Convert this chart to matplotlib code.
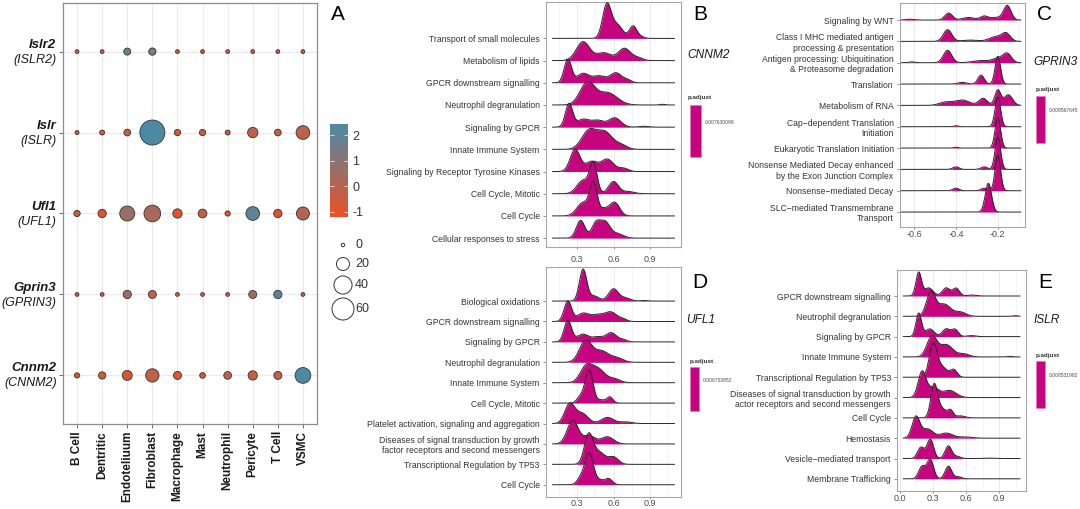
import numpy as np
import matplotlib
matplotlib.use('Agg')
from matplotlib import pyplot as plt
from matplotlib.colors import LinearSegmentedColormap, Normalize
from matplotlib.patches import Rectangle
from matplotlib.cm import ScalarMappable

plt.rcParams['font.family'] = ['Liberation Sans', 'DejaVu Sans']

# ---------------- panel A: dot plot ----------------
cell_types = ['B Cell', 'Dentritic', 'Endoteliuum', 'Fibroblast', 'Macrophage',
              'Mast', 'Neutrophil', 'Pericyte', 'T Cell', 'VSMC']
gene_names = ['Islr2', 'Islr', 'Ufl1', 'Gprin3', 'Cnnm2']
gene_human = ['(ISLR2)', '(ISLR)', '(UFL1)', '(GPRIN3)', '(CNNM2)']

# percent expressed
islr2_pct = [0.3, 0.3, 4.7, 5.2, 0.3, 0.3, 0.3, 0.3, 0.3, 0.3]
islr_pct = [0.5, 1.6, 4.2, 77.6, 3.5, 3.5, 1.6, 11.9, 4.2, 22.2]
ufl1_pct = [3.5, 7.2, 27.0, 33.8, 9.4, 8.1, 2.0, 22.2, 7.2, 19.9]
gprin3_pct = [0.3, 0.3, 7.2, 6.6, 0.3, 0.3, 0.3, 6.6, 7.2, 0.3]
cnnm2_pct = [2.0, 5.2, 11.1, 20.9, 6.6, 2.6, 6.0, 9.4, 6.6, 29.7]

# average expression (scaled)
islr2_expr = [-0.9, -0.9, 2.0, 1.3, -0.9, -0.9, -0.9, -0.9, -0.9, -0.9]
islr_expr = [-0.9, -0.7, -0.5, 2.4, -0.6, -0.6, -0.7, -0.2, -0.4, -0.1]
ufl1_expr = [-0.8, -0.9, 0.7, 0.3, -1.0, -0.3, -1.0, 2.0, -0.8, 0.1]
gprin3_expr = [-0.9, -0.9, 0.5, -0.3, -0.9, -0.9, -0.9, 0.5, 2.1, -0.9]
cnnm2_expr = [-1.0, -0.8, -0.8, -0.2, -0.9, -0.8, -0.2, -0.3, -0.2, 2.4]

size_breaks = [0, 20, 40, 60]
expr_ticks = [-1, 0, 1, 2]

# ---------------- ridge panels ----------------
b_terms = ['Transport of small molecules', 'Metabolism of lipids',
           'GPCR downstream signalling', 'Neutrophil degranulation',
           'Signaling by GPCR', 'Innate Immune System',
           'Signaling by Receptor Tyrosine Kinases', 'Cell Cycle, Mitotic',
           'Cell Cycle', 'Cellular responses to stress']
# (centre, height in rows, width) of the visible bumps
b_peaks = [
    [(0.545, 1.5, 0.035), (0.63, 0.6, 0.045), (0.76, 0.55, 0.03), (0.82, 0.08, 0.03)],
    [(0.35, 0.85, 0.055), (0.52, 0.35, 0.06), (0.69, 0.55, 0.05), (0.80, 0.12, 0.04)],
    [(0.225, 1.05, 0.03), (0.35, 0.42, 0.05), (0.48, 0.3, 0.05), (0.62, 0.45, 0.05), (0.72, 0.1, 0.03)],
    [(0.385, 1.0, 0.06), (0.55, 0.55, 0.08), (1.0, 0.03, 0.02)],
    [(0.235, 1.05, 0.03), (0.35, 0.35, 0.05), (0.47, 0.3, 0.05), (0.61, 0.42, 0.05), (0.85, 0.04, 0.04)],
    [(0.40, 0.85, 0.06), (0.53, 0.75, 0.06), (0.66, 0.2, 0.05)],
    [(0.285, 1.0, 0.04), (0.42, 0.45, 0.05), (0.55, 0.55, 0.05), (0.68, 0.15, 0.04)],
    [(0.435, 1.3, 0.03), (0.35, 0.6, 0.05), (0.60, 0.55, 0.04), (0.72, 0.1, 0.05)],
    [(0.435, 1.4, 0.03), (0.35, 0.6, 0.05), (0.61, 0.6, 0.04), (0.52, 0.3, 0.04)],
    [(0.33, 0.8, 0.035), (0.455, 0.65, 0.035), (0.53, 0.7, 0.04), (0.63, 0.2, 0.05)],
]
b_padj = '0.007630098'

c_terms = ['Signaling by WNT',
           'Class I MHC mediated antigen\nprocessing & presentation',
           'Antigen processing: Ubiquitination\n& Proteasome degradation',
           'Translation', 'Metabolism of RNA',
           'Cap\u2212dependent Translation\nInitiation',
           'Eukaryotic Translation Initiation',
           'Nonsense Mediated Decay enhanced\nby the Exon Junction Complex',
           'Nonsense\u2212mediated Decay',
           'SLC\u2212mediated Transmembrane\nTransport']
c_peaks = [
    [(-0.62, 0.04, 0.02), (-0.435, 0.33, 0.018), (-0.34, 0.12, 0.03), (-0.265, 0.18, 0.018), (-0.21, 0.12, 0.025), (-0.155, 0.68, 0.018)],
    [(-0.44, 0.55, 0.02), (-0.33, 0.06, 0.04), (-0.21, 0.22, 0.03), (-0.16, 0.36, 0.02)],
    [(-0.61, 0.04, 0.015), (-0.44, 0.58, 0.02), (-0.28, 0.1, 0.04), (-0.2, 0.2, 0.025), (-0.155, 0.42, 0.02)],
    [(-0.37, 0.08, 0.02), (-0.28, 0.42, 0.015), (-0.2, 1.3, 0.013)],
    [(-0.45, 0.15, 0.03), (-0.37, 0.25, 0.035), (-0.27, 0.33, 0.02), (-0.2, 0.72, 0.014), (-0.15, 0.5, 0.02)],
    [(-0.4, 0.05, 0.01), (-0.2, 1.4, 0.013)],
    [(-0.4, 0.04, 0.01), (-0.2, 1.44, 0.013)],
    [(-0.4, 0.12, 0.015), (-0.265, 0.12, 0.015), (-0.2, 1.5, 0.013)],
    [(-0.4, 0.12, 0.015), (-0.265, 0.12, 0.015), (-0.2, 1.65, 0.013)],
    [(-0.245, 1.35, 0.015)],
]
c_padj = '0.009567645'

d_terms = ['Biological oxidations', 'GPCR downstream signalling',
           'Signaling by GPCR', 'Neutrophil degranulation',
           'Innate Immune System', 'Cell Cycle, Mitotic',
           'Platelet activation, signaling and aggregation',
           'Diseases of signal transduction by growth\nfactor receptors and second messengers',
           'Transcriptional Regulation by TP53', 'Cell Cycle']
d_peaks = [
    [(0.35, 1.55, 0.03), (0.44, 0.25, 0.04), (0.60, 0.6, 0.04), (0.70, 0.15, 0.04), (0.85, 0.03, 0.03)],
    [(0.225, 1.0, 0.03), (0.35, 0.4, 0.05), (0.47, 0.3, 0.05), (0.58, 0.45, 0.05), (0.68, 0.1, 0.03)],
    [(0.225, 1.05, 0.03), (0.35, 0.38, 0.05), (0.47, 0.22, 0.04), (0.58, 0.45, 0.045), (0.68, 0.1, 0.03)],
    [(0.37, 1.05, 0.05), (0.50, 0.55, 0.06), (0.63, 0.2, 0.05)],
    [(0.38, 0.85, 0.05), (0.48, 0.6, 0.05), (0.60, 0.2, 0.05)],
    [(0.40, 1.6, 0.032), (0.33, 0.3, 0.03), (0.57, 0.3, 0.025), (0.50, 0.15, 0.03)],
    [(0.24, 0.95, 0.04), (0.34, 0.5, 0.05), (0.55, 0.3, 0.05), (0.70, 0.08, 0.05)],
    [(0.265, 1.15, 0.045), (0.40, 0.4, 0.05), (0.55, 0.35, 0.05)],
    [(0.395, 1.4, 0.035), (0.48, 0.6, 0.05), (0.60, 0.35, 0.04)],
    [(0.40, 1.55, 0.035), (0.33, 0.3, 0.03), (0.56, 0.3, 0.03), (0.49, 0.2, 0.03)],
]
d_padj = '0.006753952'

e_terms = ['GPCR downstream signalling', 'Neutrophil degranulation',
           'Signaling by GPCR', 'Innate Immune System',
           'Transcriptional Regulation by TP53',
           'Diseases of signal transduction by growth\nactor receptors and second messengers',
           'Cell Cycle', 'Hemostasis', 'Vesicle\u2212mediated transport',
           'Membrane Trafficking']
e_peaks = [
    [(0.17, 1.15, 0.025), (0.26, 0.4, 0.04), (0.42, 0.4, 0.035), (0.51, 0.38, 0.03), (0.65, 0.05, 0.04)],
    [(0.28, 1.15, 0.04), (0.40, 0.6, 0.06), (0.55, 0.2, 0.05), (1.05, 0.03, 0.02)],
    [(0.17, 1.15, 0.025), (0.27, 0.38, 0.04), (0.42, 0.38, 0.035), (0.50, 0.35, 0.03), (0.65, 0.05, 0.04)],
    [(0.29, 1.0, 0.045), (0.42, 0.6, 0.06), (0.58, 0.15, 0.05), (1.0, 0.03, 0.02)],
    [(0.30, 1.55, 0.035), (0.38, 0.5, 0.05), (0.49, 0.35, 0.03)],
    [(0.20, 1.25, 0.035), (0.30, 0.5, 0.05), (0.45, 0.35, 0.06)],
    [(0.31, 1.6, 0.03), (0.38, 0.45, 0.04), (0.46, 0.35, 0.025), (0.55, 0.1, 0.04)],
    [(0.145, 1.05, 0.035), (0.25, 0.45, 0.05), (0.42, 0.25, 0.06), (0.60, 0.06, 0.06)],
    [(0.19, 0.55, 0.03), (0.275, 0.95, 0.03), (0.44, 0.62, 0.03), (0.52, 0.1, 0.03), (0.80, 0.02, 0.04)],
    [(0.20, 0.6, 0.03), (0.275, 0.95, 0.03), (0.44, 0.62, 0.03), (0.53, 0.1, 0.03)],
]
e_padj = '0.008531982'

ridge_fill = '#C6047F'
W, H = 1080, 509


def fx(px):
    return px / W


def fy(py):
    return 1 - py / H


def box(x0, y0, x1, y1):
    return [fx(x0), fy(y1), (x1 - x0) / W, (y1 - y0) / H]


def dot_size(pct):
    # marker area in pt^2, diameter^2 (px) grows linearly with percent
    d2 = 12 + 7.9 * np.asarray(pct, dtype=float)
    return d2 * 0.72 ** 2


fig = plt.figure(figsize=(10.8, 5.09), dpi=100)

# ---- panel A ----
ax = fig.add_axes(box(63, 3, 317, 424))
cmap = LinearSegmentedColormap.from_list('expr', ['#EC5025', '#4A8BA6'])
norm = Normalize(vmin=-1.2, vmax=2.45)
pct_rows = [islr2_pct, islr_pct, ufl1_pct, gprin3_pct, cnnm2_pct]
expr_rows = [islr2_expr, islr_expr, ufl1_expr, gprin3_expr, cnnm2_expr]
xpos = np.arange(1, len(cell_types) + 1)
for i, (pct, expr) in enumerate(zip(pct_rows, expr_rows)):
    ax.scatter(xpos, np.full(len(xpos), i + 1), s=dot_size(pct), c=expr,
               cmap=cmap, norm=norm, edgecolors='#333333', linewidths=0.6, zorder=3)
ax.set_xlim(0.44, 10.56)
ax.set_ylim(5.6, 0.4)
ax.set_xticks(xpos)
ax.set_xticklabels(cell_types, rotation=90, fontweight='bold', fontsize=8.5, color='#1a1a1a')
ax.set_yticks(np.arange(1, 6))
ax.set_yticklabels([])
ax.grid(True, color='#ebebeb', lw=0.8, zorder=0)
ax.set_axisbelow(True)
ax.tick_params(length=3, width=0.6, color='#555555', pad=2)
for sp in ax.spines.values():
    sp.set_color('#8c8c8c')
    sp.set_linewidth(0.9)
for i, (g, h) in enumerate(zip(gene_names, gene_human)):
    ax.annotate(g, xy=(0, i + 1), xycoords=('axes fraction', 'data'), xytext=(-5, 5),
                textcoords='offset points', ha='right', va='center',
                fontsize=9.5, fontweight='bold', fontstyle='italic', color='#1a1a1a')
    ax.annotate(h, xy=(0, i + 1), xycoords=('axes fraction', 'data'), xytext=(-4.5, -5.8),
                textcoords='offset points', ha='right', va='center',
                fontsize=9, fontstyle='italic', color='#1a1a1a')

# colour bar
cax = fig.add_axes(box(330, 124, 348, 217))
cb = fig.colorbar(ScalarMappable(norm=norm, cmap=cmap), cax=cax, ticks=expr_ticks)
cb.outline.set_visible(False)
cb.ax.set_yticklabels(['-1', '0', '1', '2'])
cax.tick_params(direction='in', length=3, width=0.5, color='white', labelsize=9,
                labelcolor='#333333', left=True, right=True, pad=3)

# size legend
lax = fig.add_axes(box(330, 235, 375, 320))
lax.set_xlim(330, 375)
lax.set_ylim(320, 235)
lax.axis('off')
legend_y = [245, 264, 285, 309]
lax.scatter([343] * len(size_breaks), legend_y, s=dot_size(size_breaks),
            facecolors='white', edgecolors='#333333', linewidths=0.7, clip_on=False)
for v, yy in zip(size_breaks, legend_y):
    lax.text(355, yy, str(v), fontsize=9, color='#333333', va='center', ha='left')


# ---- ridge panels ----
def draw_ridges(rect, terms, peaks, x_lo, x_hi, xlim, ylim, xticks, minor, xpad):
    rax = fig.add_axes(rect)
    n = len(terms)
    xs = np.linspace(x_lo, x_hi, 500)
    for k, comps in enumerate(peaks):
        base = n - k
        dens = np.zeros_like(xs)
        for mu, h, sd in comps:
            dens += h * np.exp(-0.5 * ((xs - mu) / sd) ** 2)
        rax.fill_between(xs, base, base + dens, color=ridge_fill, lw=0, zorder=2 + 2 * k)
        rax.plot(xs, base + dens, color='#262626', lw=0.7, zorder=3 + 2 * k)
    rax.set_xlim(*xlim)
    rax.set_ylim(*ylim)
    rax.set_xticks(xticks)
    rax.set_xticks(minor, minor=True)
    rax.set_yticks(np.arange(n, 0, -1))
    rax.set_yticklabels(terms, fontsize=6.2, color='#333333')
    rax.tick_params(axis='y', length=2.5, width=0.5, color='#666666', pad=2)
    rax.tick_params(axis='x', length=1.5, width=0.5, color='#666666', pad=xpad,
                    labelsize=6.5, labelcolor='#4d4d4d')
    rax.tick_params(axis='x', which='minor', length=0)
    rax.grid(True, axis='x', which='major', color='#e6e6e6', lw=0.6, zorder=0)
    rax.grid(True, axis='x', which='minor', color='#f0f0f0', lw=0.5, zorder=0)
    rax.set_axisbelow(True)
    for sp in rax.spines.values():
        sp.set_color('#a6a6a6')
        sp.set_linewidth(0.8)
    return rax


rb = draw_ridges(box(546, 2, 681, 247), b_terms, b_peaks, 0.1, 1.1,
                 (0.046, 1.154), (0.6, 11.64), [0.3, 0.6, 0.9], [0.15, 0.45, 0.75, 1.05], 4)
rb.set_xticklabels(['0.3', '0.6', '0.9'])
rc = draw_ridges(box(900, 3, 1025, 227), c_terms, c_peaks, -0.66, -0.09,
                 (-0.667, -0.07), (0.3, 10.8), [-0.6, -0.4, -0.2], [-0.5, -0.3, -0.1], 0.5)
rc.set_xticklabels(['-0.6', '-0.4', '-0.2'])
rd = draw_ridges(box(546, 267, 681, 497), d_terms, d_peaks, 0.1, 1.1,
                 (0.046, 1.154), (0.4, 11.67), [0.3, 0.6, 0.9], [0.15, 0.45, 0.75, 1.05], 0.3)
rd.set_xticklabels(['0.3', '0.6', '0.9'])
re = draw_ridges(box(897, 270, 1026, 491), e_terms, e_peaks, 0.03, 1.09,
                 (-0.027, 1.145), (0.4, 11.28), [0.0, 0.3, 0.6, 0.9], [0.15, 0.45, 0.75, 1.05], 1)
re.set_xticklabels(['0.0', '0.3', '0.6', '0.9'])

# panel letters
for letter, px, py in [('A', 338, 15), ('B', 700, 15), ('C', 1045, 15),
                       ('D', 700, 283), ('E', 1045, 283)]:
    fig.text(fx(px), fy(py), letter, fontsize=15, ha='center', va='center', color='black')

# gene names beside the ridge panels
for name, px, py in [('CNNM2', 687, 55), ('GPRIN3', 1033, 62), ('UFL1', 686, 320), ('ISLR', 1034, 320)]:
    fig.text(fx(px), fy(py), name, fontsize=8.6, fontstyle='italic', ha='left', va='center',
             color='#1a1a1a')

# p.adjust keys
for val, tx, ty, bx0, by0, bx1, by1 in [
        (b_padj, 688, 98, 690, 105, 701, 157),
        (c_padj, 1036, 89, 1036, 96, 1045, 143),
        (d_padj, 690, 362, 690, 367, 699, 411),
        (e_padj, 1036, 355, 1036, 361, 1045, 408)]:
    fig.text(fx(tx), fy(ty), 'p.adjust', fontsize=4.5, fontweight='bold', ha='left',
             va='center', color='#333333')
    fig.add_artist(Rectangle((fx(bx0), fy(by1)), (bx1 - bx0) / W, (by1 - by0) / H,
                             transform=fig.transFigure, facecolor=ridge_fill,
                             edgecolor='#e07ab8', lw=0.4))
    fig.text(fx(bx1 + 4), fy((by0 + by1) / 2 - 9), val, fontsize=3.6, ha='left',
             va='center', color='#4d4d4d')

fig.savefig('out.png', dpi=100)
